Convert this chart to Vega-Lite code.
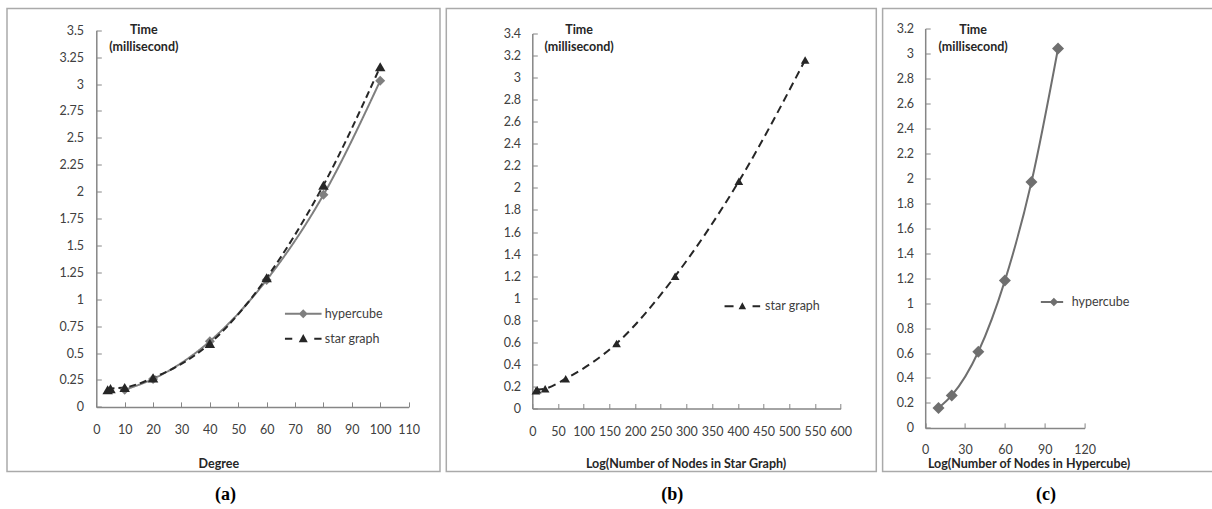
{
  "$schema": "https://vega.github.io/schema/vega-lite/v6.json",
  "background": "white",
  "padding": {"left": 6, "top": 7.5, "right": 0, "bottom": 0},
  "spacing": 4.3,
  "datasets": {
    "panelA": [
      {"series": "hypercube", "degree": 10, "time": 0.16},
      {"series": "hypercube", "degree": 20, "time": 0.26},
      {"series": "hypercube", "degree": 40, "time": 0.61},
      {"series": "hypercube", "degree": 60, "time": 1.18},
      {"series": "hypercube", "degree": 80, "time": 1.97},
      {"series": "hypercube", "degree": 100, "time": 3.03},
      {"series": "star graph", "degree": 4, "time": 0.16},
      {"series": "star graph", "degree": 5, "time": 0.17},
      {"series": "star graph", "degree": 10, "time": 0.18},
      {"series": "star graph", "degree": 20, "time": 0.27},
      {"series": "star graph", "degree": 40, "time": 0.59},
      {"series": "star graph", "degree": 60, "time": 1.2},
      {"series": "star graph", "degree": 80, "time": 2.06},
      {"series": "star graph", "degree": 100, "time": 3.16}
    ],
    "panelB": [
      {"series": "star graph", "lognodes": 7, "time": 0.16},
      {"series": "star graph", "lognodes": 9.5, "time": 0.17},
      {"series": "star graph", "lognodes": 25, "time": 0.18},
      {"series": "star graph", "lognodes": 65, "time": 0.27},
      {"series": "star graph", "lognodes": 164, "time": 0.59},
      {"series": "star graph", "lognodes": 278, "time": 1.2},
      {"series": "star graph", "lognodes": 402, "time": 2.06},
      {"series": "star graph", "lognodes": 531, "time": 3.16}
    ],
    "panelC": [
      {"series": "hypercube", "lognodes": 10, "time": 0.16},
      {"series": "hypercube", "lognodes": 20, "time": 0.26},
      {"series": "hypercube", "lognodes": 40, "time": 0.61},
      {"series": "hypercube", "lognodes": 60, "time": 1.18},
      {"series": "hypercube", "lognodes": 80, "time": 1.97},
      {"series": "hypercube", "lognodes": 100, "time": 3.04}
    ]
  },
  "resolve": {
    "scale": {"x": "independent", "y": "independent", "color": "independent", "strokeDash": "independent"},
    "axis": {"x": "independent", "y": "independent"},
    "legend": {"color": "independent", "strokeDash": "independent"}
  },
  "hconcat": [
    {
      "width": 433,
      "height": 463,
      "title": {"text": "(a)", "orient": "bottom", "anchor": "middle", "font": "Liberation Serif", "fontSize": 18, "fontWeight": "bold", "color": "#000000", "offset": 14, "dx": 2},
      "data": {"name": "panelA"},
      "encoding": {
        "x": {"field": "degree", "type": "quantitative",
          "scale": {"domain": [0, 110], "range": [89.3, 401.6], "nice": false, "zero": false},
          "axis": {"values": [0, 10, 20, 30, 40, 50, 60, 70, 80, 90, 100, 110], "tickCount": 12, "format": ".3~g", "labelOverlap": false, "labelFlush": false, "offset": -64.6, "labelPadding": 21.8, "title": "Degree", "titleX": 211.3, "titleY": 60.6, "titleAnchor": null, "titleAlign": "center", "titleBaseline": "alphabetic"}},
        "y": {"field": "time", "type": "quantitative",
          "scale": {"domain": [0, 3.5], "range": [398.4, 21.7], "nice": false, "zero": false},
          "axis": {"values": [0, 0.25, 0.5, 0.75, 1, 1.25, 1.5, 1.75, 2, 2.25, 2.5, 2.75, 3, 3.25, 3.5], "tickCount": 15, "labelOverlap": false, "labelFlush": false, "format": ".3~g", "offset": -89.3, "labelPadding": 17.7, "title": ["Time", "(millisecond)"], "titleAngle": 0, "titleX": 47, "titleY": 25.2, "titleAlign": "center", "titleBaseline": "alphabetic", "titleLineHeight": 17}}
      },
      "layer": [
        {
          "mark": {"type": "line", "interpolate": "monotone", "strokeWidth": 2},
          "encoding": {
            "color": {"field": "series", "type": "nominal",
              "scale": {"domain": ["hypercube", "star graph"], "range": ["#7f7f7f", "#262626"]},
              "legend": {"orient": "none", "legendX": 290, "legendY": 299, "title": null, "padding": 0, "offset": 0, "symbolSize": 100, "labelOffset": 15.3, "rowPadding": 12, "symbolStrokeWidth": 0,
                "encode": {"symbols": {"update": {
                  "shape": {"signal": "datum.value === 'hypercube' ? 'M-3.66,-0.2H3.66V0.2H-3.66Z M0,-0.9L0.9,0L0,0.9L-0.9,0Z' : 'M-3.66,-0.2H-2.2V0.2H-3.66Z M2.2,-0.2H3.66V0.2H2.2Z M0,-0.95L0.9,0.7H-0.9Z'"},
                  "fill": {"signal": "datum.value === 'hypercube' ? '#7f7f7f' : '#262626'"},
                  "stroke": {"value": "transparent"},
                  "opacity": {"value": 1}
                }}}}},
            "strokeDash": {"field": "series", "type": "nominal",
              "scale": {"domain": ["hypercube", "star graph"], "range": [[1, 0], [7, 4]]},
              "legend": null}
          }
        },
        {
          "transform": [{"filter": "datum.series === 'hypercube'"}],
          "mark": {"type": "point", "shape": "diamond", "filled": true, "size": 100, "color": "#7f7f7f", "opacity": 1}
        },
        {
          "transform": [{"filter": "datum.series === 'star graph'"}],
          "mark": {"type": "point", "shape": "triangle-up", "filled": true, "size": 110, "color": "#262626", "opacity": 1}
        }
      ]
    },
    {
      "width": 430,
      "height": 463,
      "title": {"text": "(b)", "orient": "bottom", "anchor": "middle", "font": "Liberation Serif", "fontSize": 18, "fontWeight": "bold", "color": "#000000", "offset": 14, "dx": 11},
      "data": {"name": "panelB"},
      "encoding": {
        "x": {"field": "lognodes", "type": "quantitative",
          "scale": {"domain": [0, 600], "range": [86, 394.3], "nice": false, "zero": false},
          "axis": {"values": [0, 50, 100, 150, 200, 250, 300, 350, 400, 450, 500, 550, 600], "tickCount": 13, "format": ".3~g", "labelOverlap": false, "labelFlush": false, "offset": -63, "labelPadding": 21.5, "title": "Log(Number of Nodes in Star Graph)", "titleX": 239.3, "titleY": 59, "titleAnchor": null, "titleAlign": "center", "titleBaseline": "alphabetic"}},
        "y": {"field": "time", "type": "quantitative",
          "scale": {"domain": [0, 3.4], "range": [400, 25], "nice": false, "zero": false},
          "axis": {"values": [0, 0.2, 0.4, 0.6, 0.8, 1, 1.2, 1.4, 1.6, 1.8, 2, 2.2, 2.4, 2.6, 2.8, 3, 3.2, 3.4], "tickCount": 18, "labelOverlap": false, "labelFlush": false, "format": ".3~g", "offset": -86, "labelPadding": 16.7, "title": ["Time", "(millisecond)"], "titleAngle": 0, "titleX": 46.3, "titleY": 25.2, "titleAlign": "center", "titleBaseline": "alphabetic", "titleLineHeight": 17}}
      },
      "layer": [
        {
          "mark": {"type": "line", "interpolate": "monotone", "strokeWidth": 2},
          "encoding": {
            "color": {"field": "series", "type": "nominal",
              "scale": {"domain": ["star graph"], "range": ["#262626"]},
              "legend": {"orient": "none", "legendX": 289.8, "legendY": 291.5, "title": null, "padding": 0, "offset": 0, "symbolSize": 100, "labelOffset": 16.5, "symbolStrokeWidth": 0,
                "encode": {"symbols": {"update": {
                  "shape": {"value": "M-3.56,-0.2H-1.76V0.2H-3.56Z M2.04,-0.2H3.56V0.2H2.04Z M0,-0.8L0.75,0.6H-0.75Z"},
                  "fill": {"value": "#262626"},
                  "stroke": {"value": "transparent"},
                  "opacity": {"value": 1}
                }}}}},
            "strokeDash": {"field": "series", "type": "nominal",
              "scale": {"domain": ["star graph"], "range": [[8, 5]]},
              "legend": null}
          }
        },
        {
          "mark": {"type": "point", "shape": "triangle-up", "filled": true, "size": 75, "color": "#262626", "opacity": 1}
        }
      ]
    },
    {
      "width": 333,
      "height": 463,
      "title": {"text": "(c)", "orient": "bottom", "anchor": "middle", "font": "Liberation Serif", "fontSize": 18, "fontWeight": "bold", "color": "#000000", "offset": 14, "dx": -3},
      "data": {"name": "panelC"},
      "encoding": {
        "x": {"field": "lognodes", "type": "quantitative",
          "scale": {"domain": [0, 120], "range": [42.6, 202], "nice": false, "zero": false},
          "axis": {"values": [0, 30, 60, 90, 120], "tickCount": 5, "format": ".3~g", "labelOverlap": false, "labelFlush": false, "offset": -43.6, "labelPadding": 21, "title": "Log(Number of Nodes in Hypercube)", "titleX": 146, "titleY": 39.6, "titleAnchor": null, "titleAlign": "center", "titleBaseline": "alphabetic"}},
        "y": {"field": "time", "type": "quantitative",
          "scale": {"domain": [0, 3.2], "range": [419.4, 20], "nice": false, "zero": false},
          "axis": {"values": [0, 0.2, 0.4, 0.6, 0.8, 1, 1.2, 1.4, 1.6, 1.8, 2, 2.2, 2.4, 2.6, 2.8, 3, 3.2], "tickCount": 17, "labelOverlap": false, "labelFlush": false, "format": ".3~g", "offset": -42.6, "labelPadding": 16.6, "title": ["Time", "(millisecond)"], "titleAngle": 0, "titleX": 47.4, "titleY": 25.2, "titleAlign": "center", "titleBaseline": "alphabetic", "titleLineHeight": 17}}
      },
      "layer": [
        {
          "mark": {"type": "line", "interpolate": "monotone", "strokeWidth": 2},
          "encoding": {
            "color": {"field": "series", "type": "nominal",
              "scale": {"domain": ["hypercube"], "range": ["#6f6f6f"]},
              "legend": {"orient": "none", "legendX": 165, "legendY": 287.2, "title": null, "padding": 0, "offset": 0, "symbolSize": 100, "labelOffset": 11.6, "symbolStrokeWidth": 0,
                "encode": {"symbols": {"update": {
                  "shape": {"value": "M-2.6,-0.2H1.86V0.2H-2.6Z M0,-0.85L0.85,0L0,0.85L-0.85,0Z"},
                  "fill": {"value": "#6f6f6f"},
                  "stroke": {"value": "transparent"},
                  "opacity": {"value": 1}
                }}}}}
          }
        },
        {
          "mark": {"type": "point", "shape": "diamond", "filled": true, "size": 144, "color": "#6f6f6f", "opacity": 1}
        }
      ]
    }
  ],
  "config": {
    "view": {"stroke": "#aaaaaa", "strokeWidth": 1.5, "fill": "white"},
    "font": "Lato",
    "axis": {"grid": false, "labelFont": "Lato", "labelFontSize": 12.5, "labelColor": "#404040", "labelFlush": false, "labelOverlap": false, "titleFont": "Lato", "titleFontSize": 12.5, "titleFontWeight": "bold", "titleColor": "#262626", "domainColor": "#868686", "domainWidth": 1.5, "tickColor": "#868686", "tickWidth": 1, "tickSize": -5},
    "legend": {"labelFont": "Lato", "labelFontSize": 12.5, "labelColor": "#404040"}
  }
}
